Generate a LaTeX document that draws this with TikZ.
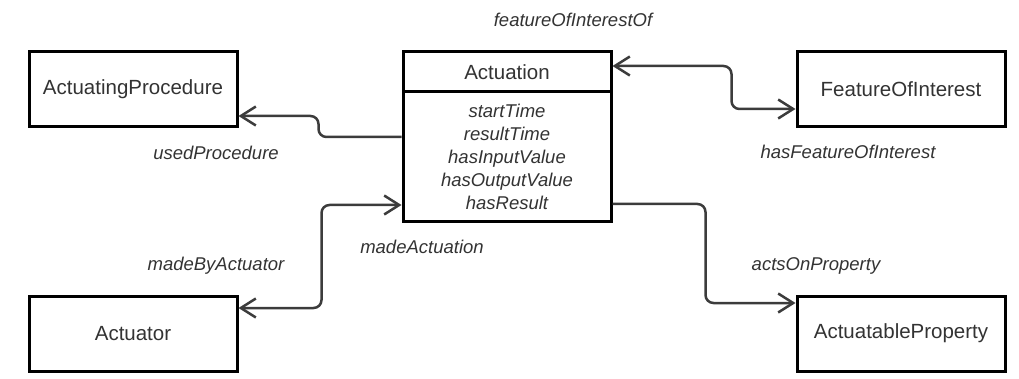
\documentclass[tikz,border=0pt]{standalone}
\usepackage{fontspec}
\setmainfont{Liberation Sans}
\usetikzlibrary{arrows.meta}

\definecolor{linkgray}{HTML}{3C3C3C}
\definecolor{textgray}{HTML}{333333}

\tikzset{
ClassBox/.style={draw=black, fill=white, line width=3pt, minimum width=208pt,
        minimum height=75pt, inner sep=0pt, text=textgray,
        font=\fontsize{20.5}{24}\selectfont},
TitleBox/.style={ClassBox, minimum height=40pt},
AttrBox/.style={ClassBox, minimum height=130pt, align=center,
        font=\fontsize{18.5}{23}\selectfont\itshape},
RelLink/.style={arrows={-{Straight Barb[length=15pt,width=19pt]}}, draw=linkgray,
        line width=2.5pt, rounded corners=8pt},
RelLabel/.style={text=textgray, font=\fontsize{18.5}{22}\selectfont\itshape},
}

\begin{document}
\begin{tikzpicture}[x=1pt,y=-1pt]
	\useasboundingbox (0,0) rectangle (1019,379);

	% classes
	\node[ClassBox] (proc) at (133,89.5) {ActuatingProcedure};
	\node[ClassBox] (foi) at (901,89.5) {FeatureOfInterest};
	\node[ClassBox] (actuator) at (133,333.5) {Actuator};
	\node[ClassBox] (prop) at (901,333.5) {ActuatableProperty};
	\node[TitleBox] (act) at (507,72) {Actuation};
	\node[AttrBox] (attr) at (507,157) {startTime\\resultTime\\hasInputValue\\hasOutputValue\\hasResult};

	% relations
	\draw[RelLink] ([yshift=20pt]attr.west) -- ++(-83pt,0) |- ([yshift=-26.5pt]proc.east);
	\draw[RelLink, arrows={{Straight Barb[length=15pt,width=19pt]}-{Straight Barb[length=15pt,width=19pt]}}]
		([yshift=6pt]act.east) -- ++(119pt,0) |- ([yshift=-19.5pt]foi.west);
	\draw[RelLink, arrows={{Straight Barb[length=15pt,width=19pt]}-{Straight Barb[length=15pt,width=19pt]}}]
		([yshift=25.5pt]actuator.east) -- ++(83pt,0) |- ([yshift=-48pt]attr.west);
	\draw[RelLink] ([yshift=-47pt]attr.east) -- ++(93pt,0) |- ([yshift=30.5pt]prop.west);

	% labels
	\node[RelLabel] (lfoiof) at (573,20) {featureOfInterestOf};
	\node[RelLabel] (lused) at (216,153) {usedProcedure};
	\node[RelLabel] (lhasfoi) at (848,152) {hasFeatureOfInterest};
	\node[RelLabel] (lmade) at (422,247) {madeActuation};
	\node[RelLabel] (lmadeby) at (216,266) {madeByActuator};
	\node[RelLabel] (lacts) at (816,266) {actsOnProperty};
\end{tikzpicture}
\end{document}
